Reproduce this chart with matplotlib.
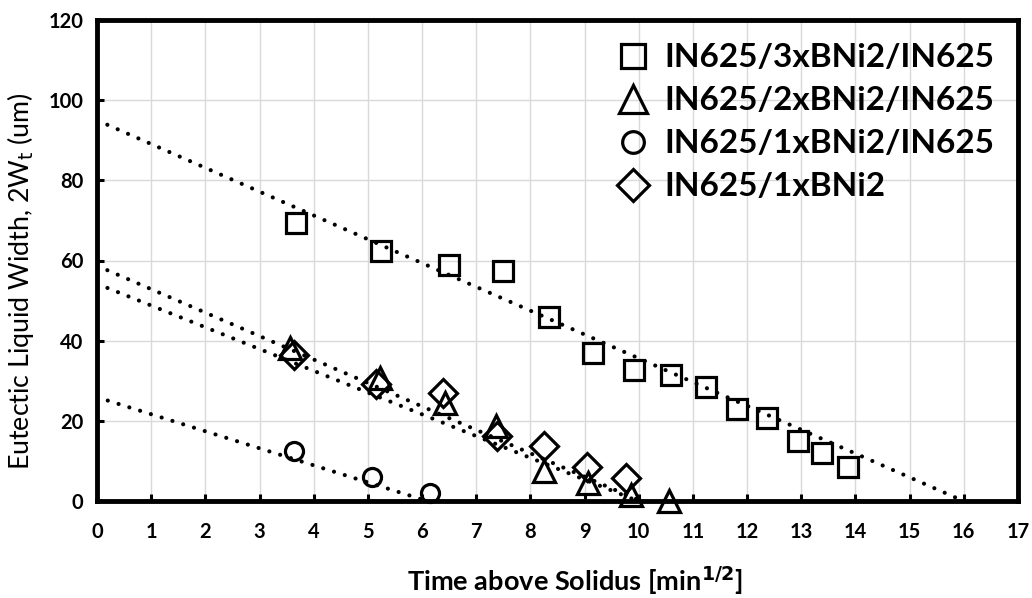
import numpy as np
import matplotlib
matplotlib.use("Agg")
import matplotlib.pyplot as plt

# ---- data ----
sq_x = [3.68, 5.25, 6.49, 7.49, 8.35, 9.16, 9.92, 10.60, 11.24, 11.82, 12.36, 12.93, 13.39, 13.87]
sq_y = [69.4, 62.4, 59.0, 57.5, 45.8, 36.8, 32.8, 31.5, 28.5, 23.0, 20.8, 15.0, 12.0, 8.6]

tri_x = [3.57, 5.23, 6.43, 7.37, 8.25, 9.07, 9.86, 10.56]
tri_y = [38.2, 30.6, 24.4, 18.6, 7.4, 4.5, 1.5, 0.0]

cir_x = [3.64, 5.07, 6.15]
cir_y = [12.4, 5.9, 2.0]

dia_x = [3.64, 5.15, 6.38, 7.38, 8.25, 9.05, 9.77]
dia_y = [36.5, 29.3, 27.0, 16.3, 13.6, 8.6, 5.7]

# trend lines: intercept, slope, x-range end
trend_sq = (95.0, -5.94, 16.1)
trend_tri = (54.2, -5.43, 9.98)
trend_dia = (58.7, -5.85, 10.03)
trend_cir = (25.9, -4.25, 6.1)

labels = ["IN625/3xBNi2/IN625", "IN625/2xBNi2/IN625",
          "IN625/1xBNi2/IN625", "IN625/1xBNi2"]

x_ticks = list(range(0, 18))
y_ticks = list(range(0, 121, 20))

plt.rcParams['font.family'] = ['Lato', 'DejaVu Sans']

fig = plt.figure(figsize=(10.32, 5.98), dpi=100)
ax = fig.add_axes([97/1032, 1 - 501/598, (1018-97)/1032, (501-20)/598])

dot_style = dict(color='black', lw=3.0, linestyle=(0, (0.01, 2.7)),
                 dash_capstyle='round', zorder=2)
for a, b, xe in [trend_sq, trend_tri, trend_dia, trend_cir]:
    xs = np.linspace(0, xe, 200)
    ax.plot(xs, a + b * xs, **dot_style)

mk = dict(linestyle='none', markerfacecolor='none', markeredgecolor='black',
          markeredgewidth=2.3, zorder=3, clip_on=False)
ax.plot(sq_x, sq_y, marker='s', markersize=14.5, label=labels[0], **mk)
ax.plot(tri_x, tri_y, marker='^', markersize=16.5, label=labels[1], **mk)
ax.plot(cir_x, cir_y, marker='o', markersize=13, label=labels[2], **mk)
ax.plot(dia_x, dia_y, marker='D', markersize=14, label=labels[3], **mk)

ax.set_xlim(0, 17)
ax.set_ylim(0, 120)
ax.set_xticks(x_ticks)
ax.set_yticks(y_ticks)
ax.grid(True, color='#d9d9d9', lw=1.0, zorder=0)
ax.set_axisbelow(True)

for s in ax.spines.values():
    s.set_linewidth(3.5)
    s.set_color('black')

ax.tick_params(direction='in', length=5, width=2.2, labelsize=14.5)
ax.tick_params(axis='x', pad=15)
ax.tick_params(axis='y', pad=10)
for t in ax.get_xticklabels() + ax.get_yticklabels():
    t.set_fontweight('bold')

ax.set_xlabel("Time above Solidus [min$^{\\mathbf{1/2}}$]", fontsize=19.5,
              fontweight='bold', va='center')
ax.xaxis.set_label_coords(0.519, -0.166)
ax.set_ylabel("Eutectic Liquid Width, 2W$_\\mathrm{t}$ (um)", fontsize=19.3)
ax.yaxis.set_label_coords(-0.066, 0.457)

leg = ax.legend(loc='upper right', frameon=False,
                prop={'weight': 'bold', 'size': 24},
                handletextpad=0.45, labelspacing=0.42, borderaxespad=0.4,
                handlelength=1.0, borderpad=0.3, markerscale=1.2)

fig.savefig("out.png", dpi=100)
